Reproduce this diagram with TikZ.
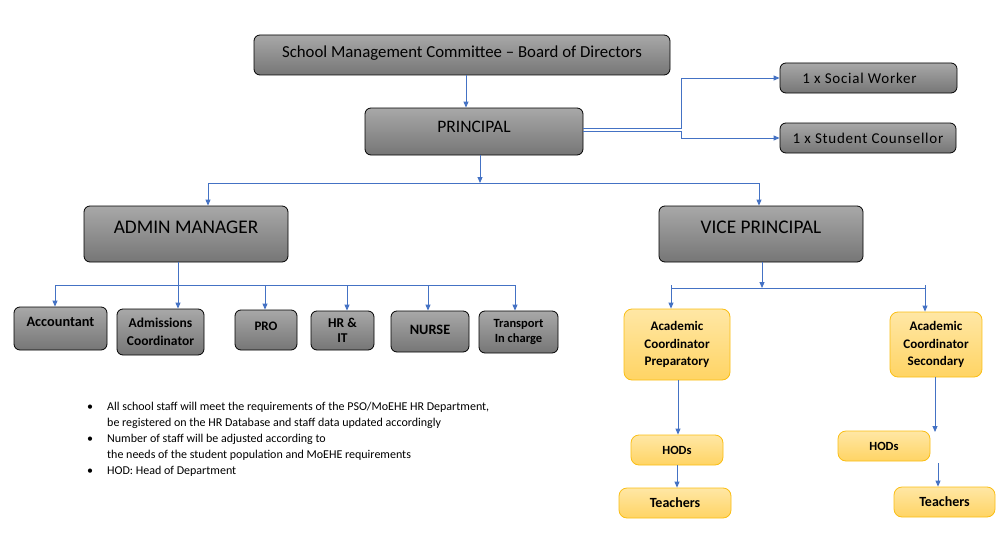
\documentclass[tikz,border=0pt]{standalone}
\usepackage{fontspec}
\setmainfont{Carlito}
\newfontfamily\spaced[LetterSpace=5]{Carlito}
\usetikzlibrary{arrows.meta}
\definecolor{conncol}{RGB}{68,114,196}
\definecolor{gtop}{RGB}{168,168,168}
\definecolor{gbot}{RGB}{118,118,118}
\definecolor{ytop}{RGB}{255,231,165}
\definecolor{ybot}{RGB}{255,212,100}
\definecolor{ybord}{RGB}{250,190,20}
\newcommand{\fs}[2]{\fontsize{#1}{#2}\selectfont}
\begin{document}
\begin{tikzpicture}[x=1pt,y=-1pt,
  graybox/.style={draw=black, line width=0.8pt, rounded corners=6pt, top color=gtop, bottom color=gbot, inner sep=0pt, align=center, text=black},
  yelbox/.style={draw=ybord, line width=0.8pt, rounded corners=8pt, top color=ytop, bottom color=ybot, inner sep=0pt, align=center, text=black},
  conn/.style={draw=conncol, line width=0.9pt, -{Triangle[length=6pt,width=5pt]}},
  busline/.style={draw=conncol, line width=0.9pt},
  box/.style 2 args={minimum width=#1, minimum height=#2}
]
\useasboundingbox[fill=white] (0,0) rectangle (1001,535);

% top level
\node[graybox, box={416pt}{40pt}, font=\fs{16.8}{20}, text depth=7pt] (smc) at (462,55) {School Management Committee -- Board of Directors};
\node[graybox, box={218pt}{47pt}, font=\fs{17.5}{20}, text depth=10pt] (prin) at (474,131.5) {PRINCIPAL};
\node[graybox, box={177pt}{30pt}, font=\spaced\fs{15}{18}] (sw) at (868.5,78) {1 x Social Worker\hspace*{18pt}};
\node[graybox, box={176pt}{30pt}, font=\spaced\fs{15}{18}] (sc) at (868,138) {1 x Student Counsellor};

\node[graybox, box={204pt}{56pt}, font=\fs{19.3}{22}, text depth=14pt] (adm) at (186,234) {ADMIN MANAGER};
\node[graybox, box={204pt}{56pt}, font=\fs{19.3}{22}, text depth=14pt] (vp) at (761,234) {VICE PRINCIPAL};

% admin row
\node[graybox, box={93pt}{43pt}, font=\bfseries\fs{14.3}{17}, text depth=14pt] (acc) at (60.5,328.5) {Accountant};
\node[graybox, box={87pt}{46pt}, font=\bfseries\fs{13.5}{17.5}] (admc) at (160.5,332) {Admissions\\Coordinator};
\node[graybox, box={62pt}{40pt}, font=\bfseries\fs{13}{16}, text depth=8pt] (pro) at (266,330) {PRO};
\node[graybox, box={63pt}{39pt}, font=\bfseries\fs{13.5}{15.5}] (hr) at (342.5,330.5) {HR \&\\IT};
\node[graybox, box={78pt}{41pt}, font=\bfseries\fs{14.3}{17}, text depth=4pt] (nurse) at (430,331.5) {NURSE};
\node[graybox, box={79pt}{42pt}, font=\bfseries\fs{12.5}{15}] (trans) at (518.5,332) {Transport\\In charge};

% academic
\node[yelbox, box={106pt}{71pt}, font=\bfseries\fs{13.1}{17.5}] (acp) at (677,344.5) {Academic\\Coordinator\\Preparatory};
\node[yelbox, box={92pt}{65pt}, font=\bfseries\fs{13.1}{17.5}] (acs) at (936,344.5) {Academic\\Coordinator\\Secondary};
\node[yelbox, box={92pt}{30pt}, font=\bfseries\fs{12.5}{15}] (hod1) at (677,450) {HODs};
\node[yelbox, box={112pt}{30pt}, font=\bfseries\fs{14}{16}] (tea1) at (675,503) {Teachers};
\node[yelbox, box={92pt}{30pt}, font=\bfseries\fs{12.5}{15}] (hod2) at (884,446) {HODs};
\node[yelbox, box={101pt}{30pt}, font=\bfseries\fs{14}{16}] (tea2) at (944.5,502) {Teachers};

% notes
\node[anchor=north west, inner sep=0pt, font=\fs{12}{16}] (notes) at (87,399) {%
\begin{tabular}{@{}p{20pt}@{}l@{}}
\textbullet & All school staff will meet the requirements of the PSO/MoEHE HR Department,\\
 & be registered on the HR Database and staff data updated accordingly\\
\textbullet & Number of staff will be adjusted according to\\
 & the needs of the student population and MoEHE requirements\\
\textbullet & HOD: Head of Department
\end{tabular}};

% connectors
\draw[conn] ([xshift=4pt]smc.south) -- ([xshift=-8pt]prin.north);
\coordinate (tx) at (681,0);
\draw[conn] ([yshift=3.2pt]prin.east) -| (tx |- sw.west) -- (sw.west);
\draw[busline] ([yshift=0.2pt]prin.east) -- ([yshift=0.2pt]prin.east -| tx);
\draw[conn] ([yshift=0.2pt]prin.east -| tx) |- (sc.west);

\coordinate (pj) at (480,183);
\coordinate (pl) at (208,183);
\coordinate (pr) at (759,183);
\draw[conn] (prin.south -| pj) -- (pj);
\draw[busline] (pl) -- (pr);
\draw[conn] (pl) -- (pl |- adm.north);
\draw[conn] (pr) -- (pr |- vp.north);

\coordinate (aj) at (178,285);
\draw[busline] (adm.south -| aj) -- (aj);
\coordinate (b1) at (55,285);
\coordinate (b2) at (178,285);
\coordinate (b3) at (265,285);
\coordinate (b4) at (347,285);
\coordinate (b5) at (428,285);
\coordinate (b6) at (515,285);
\draw[busline] (b1) -- (b6);
\draw[conn] (b1) -- (b1 |- acc.north);
\draw[conn] (b2) -- (b2 |- admc.north);
\draw[conn] (b3) -- (b3 |- pro.north);
\draw[conn] (b4) -- (b4 |- hr.north);
\draw[conn] (b5) -- (b5 |- nurse.north);
\draw[conn] (b6) -- (b6 |- trans.north);

\coordinate (vj) at (762,288);
\coordinate (vl) at (671,288);
\coordinate (vr) at (925,288);
\draw[conn] (vp.south -| vj) -- (vj);
\draw[busline] (vl) -- (vr);
\draw[conn] ([yshift=3pt]vl) -- (vl |- acp.north);
\draw[conn] ([yshift=3pt]vr) -- (vr |- acs.north);

\draw[conn] ([xshift=1pt]acp.south) -- ([xshift=1pt]hod1.north);
\draw[conn] (hod1.south) -- (hod1.south |- tea1.north);
\coordinate (s1) at (935,432);
\coordinate (s2) at (938,463);
\draw[conn] (acs.south -| s1) -- (s1);
\draw[conn] (s2) -- (s2 |- tea2.north);
\end{tikzpicture}
\end{document}
